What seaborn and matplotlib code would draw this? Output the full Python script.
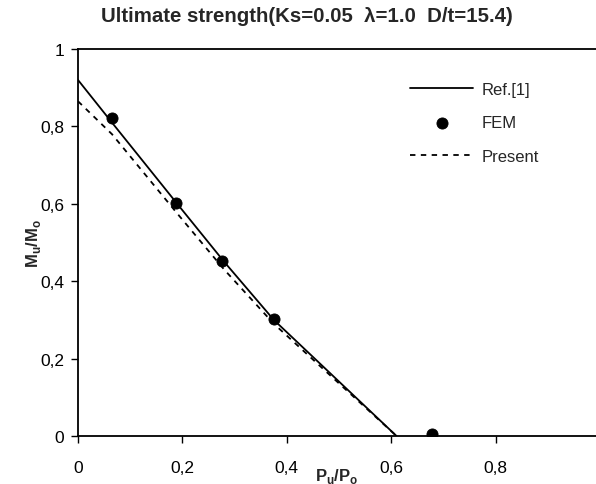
import matplotlib
matplotlib.use("Agg")
import matplotlib.pyplot as plt
import seaborn as sns
import pandas as pd
from matplotlib.ticker import FuncFormatter, FixedLocator

ref_x = [0.0, 0.065, 0.19, 0.28, 0.375, 0.61]
ref_y = [0.92, 0.81, 0.60, 0.45, 0.30, 0.0]
present_x = [0.0, 0.065, 0.19, 0.28, 0.375, 0.61]
present_y = [0.865, 0.78, 0.575, 0.43, 0.29, 0.0]
fem_x = [0.065, 0.187, 0.276, 0.376, 0.677]
fem_y = [0.822, 0.602, 0.452, 0.302, 0.005]
x_ticks = [0, 0.2, 0.4, 0.6, 0.8]
y_ticks = [0, 0.2, 0.4, 0.6, 0.8, 1]

sns.set_theme(style="white")
plt.rcParams['font.family'] = ['Liberation Sans', 'DejaVu Sans']

fig = plt.figure(figsize=(5.96, 4.85), dpi=100)
ax = fig.add_axes([78/596, 48/485, 1 - 78/596, 387/485])

ref_df = pd.DataFrame({"x": ref_x, "y": ref_y})
pre_df = pd.DataFrame({"x": present_x, "y": present_y})
fem_df = pd.DataFrame({"x": fem_x, "y": fem_y})

sns.lineplot(data=ref_df, x="x", y="y", ax=ax, color="black", lw=1.3,
             sort=False, label="Ref.[1]", estimator=None)
sns.scatterplot(data=fem_df, x="x", y="y", ax=ax, color="black", s=64,
                edgecolor="black", label="FEM", zorder=5)
sns.lineplot(data=pre_df, x="x", y="y", ax=ax, color="black", lw=1.3,
             sort=False, label="Present", estimator=None, dashes=False)
ax.lines[-1].set_linestyle((0, (3, 3)))

ax.set_xlim(0, 0.992)
ax.set_ylim(0, 1)
ax.xaxis.set_major_locator(FixedLocator(x_ticks))
ax.yaxis.set_major_locator(FixedLocator(y_ticks))
fmt = FuncFormatter(lambda v, p: ("%g" % v).replace(".", ","))
ax.xaxis.set_major_formatter(fmt)
ax.yaxis.set_major_formatter(fmt)
ax.tick_params(axis="both", direction="out", length=5, width=1, color="black",
               labelsize=12.5, labelcolor="black", bottom=True, left=True, pad=5)
ax.tick_params(axis="x", pad=12)

for s in ["left", "bottom", "top"]:
    ax.spines[s].set_visible(True)
    ax.spines[s].set_color("black")
    ax.spines[s].set_linewidth(1.3)
ax.spines["right"].set_visible(False)
ax.grid(False)

ax.set_xlabel(r"P$_\mathregular{u}$/P$_\mathregular{o}$", fontsize=12, fontweight="bold")
ax.set_ylabel(r"M$_\mathregular{u}$/M$_\mathregular{o}$", fontsize=12, fontweight="bold")
ax.xaxis.set_label_coords(0.5, -0.077)
ax.yaxis.set_label_coords(-0.068, 0.5)

fig.text(307/596, 1 - 17/485, "Ultimate strength(Ks=0.05  λ=1.0  D/t=15.4)",
         ha="center", va="center", fontsize=14.7, fontweight="bold")

leg = ax.legend(loc="upper left", bbox_to_anchor=(395/596, 1 - 68/485),
                bbox_transform=fig.transFigure, frameon=False, fontsize=12,
                handlelength=3.8, labelspacing=1.1, handletextpad=0.5)

fig.savefig("out.png", dpi=100)
